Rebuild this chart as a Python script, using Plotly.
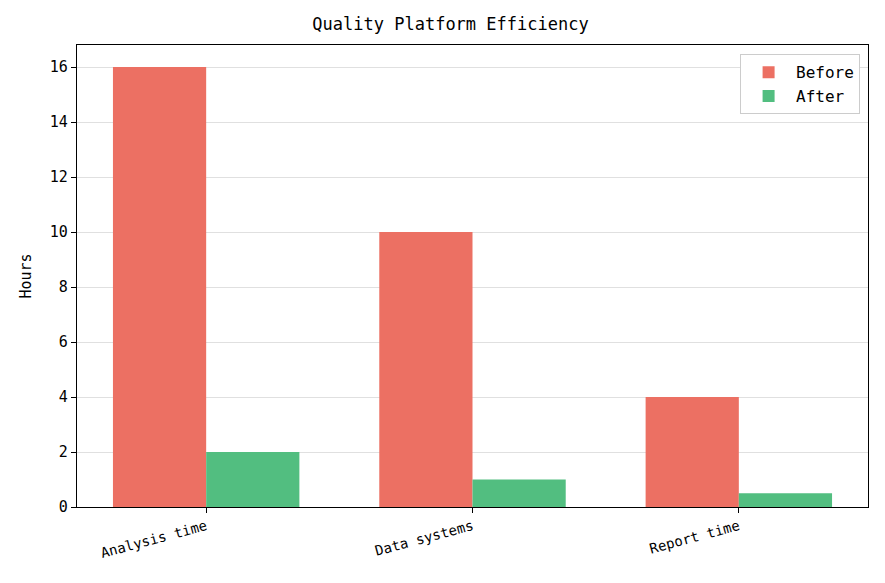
import plotly.graph_objects as go

categories = ['Analysis time', 'Data systems', 'Report time']
before_hours = [16, 10, 4]
after_hours = [2, 1, 0.5]

FONT = 'DejaVu Sans Mono'

fig = go.Figure()
fig.add_trace(go.Bar(x=categories, y=before_hours, name='Before',
                     marker=dict(color='#EC7063', line=dict(width=0)),
                     offset=-0.35, width=0.35))
fig.add_trace(go.Bar(x=categories, y=after_hours, name='After',
                     marker=dict(color='#52BE80', line=dict(width=0)),
                     offset=0, width=0.35))

# page body adds an 8px offset, so margins are trimmed to compensate
fig.update_layout(
    width=885, height=583,
    margin=dict(l=69, r=25, t=37, b=84),
    paper_bgcolor='white', plot_bgcolor='white',
    font=dict(family=FONT, size=14, color='black'),
    title=dict(text='Quality Platform Efficiency', x=0.5, xanchor='center',
               y=0.973, yanchor='middle', font=dict(size=17)),
    barmode='group',
    showlegend=True,
    legend=dict(x=0.99, y=0.98, xanchor='right', yanchor='top',
                bordercolor='#cccccc', borderwidth=1, bgcolor='white',
                font=dict(size=16), itemwidth=45, tracegroupgap=4),
)
fig.update_xaxes(type='category', range=[-0.485, 2.485], showline=True, mirror=True,
                 linecolor='black', linewidth=1.2, ticks='outside', ticklen=5,
                 tickcolor='black', tickangle=-15, showgrid=False,
                 tickfont=dict(size=14))
fig.update_yaxes(range=[0, 16.8], dtick=2, showline=True, mirror=True,
                 linecolor='black', linewidth=1.2, ticks='outside', ticklen=5,
                 tickcolor='black', showgrid=True, gridcolor='#e0e0e0',
                 zeroline=False, title=dict(text='Hours', standoff=14, font=dict(size=15)),
                 tickfont=dict(size=15))

fig.write_html("out.html")
